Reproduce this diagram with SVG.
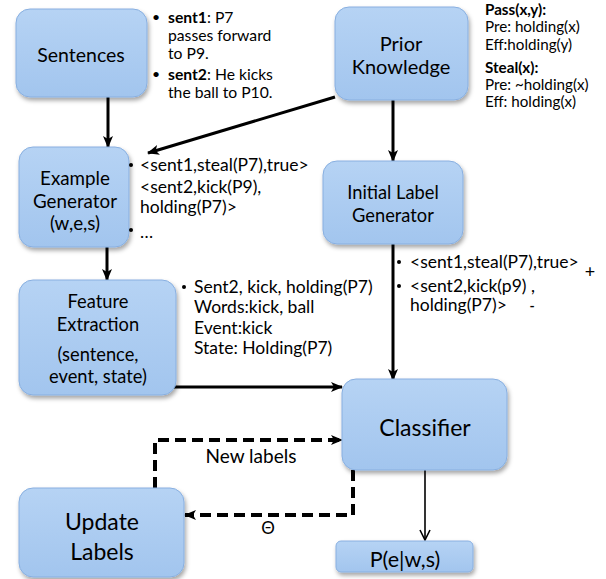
<svg xmlns="http://www.w3.org/2000/svg" width="606" height="579" viewBox="0 0 606 579">
<defs>
<linearGradient id="g" x1="0" y1="0" x2="0" y2="1">
<stop offset="0" stop-color="#b6d3f4"/>
<stop offset="1" stop-color="#a2c5ee"/>
</linearGradient>
<filter id="sh" x="-10%" y="-10%" width="125%" height="130%">
<feDropShadow dx="1.5" dy="3" stdDeviation="2" flood-color="#000" flood-opacity="0.35"/>
</filter>
<marker id="ah" markerUnits="userSpaceOnUse" markerWidth="12" markerHeight="12" viewBox="0 0 12 12" refX="11" refY="6" orient="auto">
<path d="M0,1 L12,6 L0,11 L3,6 Z" fill="#000"/>
</marker>
<marker id="ahs" markerUnits="userSpaceOnUse" markerWidth="12" markerHeight="12" viewBox="0 0 12 12" refX="11" refY="6" orient="auto">
<path d="M1,1 L11,6 L1,11" fill="none" stroke="#000" stroke-width="1.6"/>
</marker>
</defs>
<style>
.box{fill:url(#g);stroke:#88afe0;stroke-width:1;filter:url(#sh)}
.t{font-family:Lato,"Liberation Sans",sans-serif;fill:#000}
.c{text-anchor:middle}
.b{font-weight:bold}
.ln{fill:none;stroke:#000;stroke-width:3}
.dash{fill:none;stroke:#000;stroke-width:4;stroke-dasharray:11 6}
</style>

<g id="connectors">
<line class="ln" x1="108" y1="97" x2="108" y2="147" marker-end="url(#ah)"/>
<line class="ln" x1="335" y1="97" x2="148" y2="153" marker-end="url(#ah)"/>
<line class="ln" x1="393" y1="100" x2="393" y2="161" marker-end="url(#ah)"/>
<line class="ln" x1="107" y1="247" x2="107" y2="280" marker-end="url(#ah)"/>
<line class="ln" x1="393" y1="244" x2="393" y2="380" marker-end="url(#ah)"/>
<line class="ln" x1="166" y1="387" x2="342" y2="387" marker-end="url(#ah)"/>
<line x1="425" y1="470" x2="425" y2="540" stroke="#000" stroke-width="1.6" marker-end="url(#ahs)"/>
<path class="dash" d="M155,488 V440 H342" marker-end="url(#ah)"/>
<path class="dash" d="M353,470 V515 H185" marker-end="url(#ah)"/>
<text class="t c" x="251" y="463" font-size="19">New labels</text>
<text class="t c" x="268" y="534" font-size="17">Θ</text>
</g>

<g id="sentences">
<rect class="box" x="16" y="9" width="131" height="88" rx="14"/>
<text class="t c" x="81" y="62" font-size="19.5">Sentences</text>
</g>
<g id="sentences-notes" class="t" font-size="15.7">
<text x="152" y="22" font-size="14">•</text>
<text x="168" y="23"><tspan class="b">sent1</tspan>: P7</text>
<text x="168" y="41">passes forward</text>
<text x="168" y="59">to P9.</text>
<text x="152" y="79" font-size="14">•</text>
<text x="168" y="80"><tspan class="b">sent2</tspan>: He kicks</text>
<text x="168" y="98">the ball to P10.</text>
</g>

<g id="prior-knowledge">
<rect class="box" x="335" y="7" width="133" height="93" rx="14"/>
<text class="t c" x="401" y="51" font-size="20">Prior</text>
<text class="t c" x="401" y="74" font-size="20">Knowledge</text>
</g>
<g id="prior-notes" class="t" font-size="15.2">
<text x="485" y="15" class="b">Pass(x,y):</text>
<text x="485" y="32">Pre: holding(x)</text>
<text x="485" y="50">Eff:holding(y)</text>
<text x="485" y="73" class="b">Steal(x):</text>
<text x="485" y="90">Pre: ~holding(x)</text>
<text x="485" y="107">Eff: holding(x)</text>
</g>

<g id="example-generator">
<rect class="box" x="19" y="147" width="110" height="100" rx="14"/>
<text class="t c" x="75" y="185" font-size="18.8">Example</text>
<text class="t c" x="75" y="208" font-size="18.8">Generator</text>
<text class="t c" x="75" y="230" font-size="18.8">(w,e,s)</text>
</g>
<g id="example-notes" class="t" font-size="17.5">
<circle cx="131" cy="165" r="2"/>
<text x="140" y="171">&lt;sent1,steal(P7),true&gt;</text>
<text x="140" y="193">&lt;sent2,kick(P9),</text>
<text x="140" y="213">holding(P7)&gt;</text>
<circle cx="131" cy="230" r="2"/>
<text x="140" y="238">…</text>
</g>

<g id="initial-label-generator">
<rect class="box" x="323" y="161" width="140" height="83" rx="14"/>
<text class="t c" x="393" y="199" font-size="18.3">Initial Label</text>
<text class="t c" x="393" y="222" font-size="18.3">Generator</text>
</g>
<g id="initial-notes" class="t" font-size="17.5">
<circle cx="399" cy="262" r="2"/>
<text x="410" y="268">&lt;sent1,steal(P7),true&gt;</text>
<text x="590" y="278" class="c" font-size="18">+</text>
<circle cx="399" cy="286" r="2"/>
<text x="410" y="292">&lt;sent2,kick(p9) ,</text>
<text x="410" y="311">holding(P7)&gt;</text>
<text x="532" y="311" class="c b" font-size="14">-</text>
</g>

<g id="feature-extraction">
<rect class="box" x="19" y="280" width="157" height="115" rx="14"/>
<text class="t c" x="98" y="308" font-size="18.3">Feature</text>
<text class="t c" x="98" y="331" font-size="18.3">Extraction</text>
<text class="t c" x="98" y="361" font-size="18.3">(sentence,</text>
<text class="t c" x="98" y="383" font-size="18.3">event, state)</text>
</g>
<g id="feature-notes" class="t" font-size="17.5">
<circle cx="184" cy="287" r="2"/>
<text x="194" y="293">Sent2, kick, holding(P7)</text>
<text x="194" y="313">Words:kick, ball</text>
<text x="194" y="334">Event:kick</text>
<text x="194" y="354">State: Holding(P7)</text>
</g>

<g id="classifier">
<rect class="box" x="342" y="379" width="165" height="91" rx="14"/>
<text class="t c" x="425" y="436" font-size="23">Classifier</text>
</g>

<g id="update-labels">
<rect class="box" x="19" y="488" width="165" height="89" rx="14"/>
<text class="t c" x="102" y="530" font-size="23">Update</text>
<text class="t c" x="102" y="560" font-size="23">Labels</text>
</g>

<g id="output">
<rect class="box" x="336" y="541" width="137" height="31" rx="5"/>
<text class="t c" x="405" y="567" font-size="21.5">P(e|w,s)</text>
</g>
</svg>
